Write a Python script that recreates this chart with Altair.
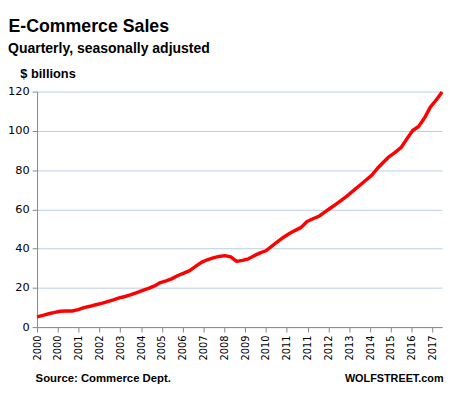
import json
import altair as alt
import pandas as pd

# ---- data (quarterly, $ billions, 2000 Q1 .. 2017 Q2) ----
sales = [5.2, 6.0, 6.8, 7.5, 8.1, 8.2, 8.2, 8.9, 9.9, 10.6,
         11.4, 12.1, 13.0, 13.9, 14.9, 15.6, 16.5, 17.6, 18.7, 19.7,
         21.0, 22.7, 23.6, 24.7, 26.3, 27.5, 28.8, 30.9, 33.0, 34.3,
         35.3, 36.0, 36.4, 35.8, 33.5, 34.0, 34.8, 36.4, 37.8, 38.9,
         41.2, 43.6, 45.8, 47.7, 49.3, 50.8, 53.8, 55.2, 56.4, 58.6,
         60.7, 62.8, 65.0, 67.3, 69.8, 72.3, 74.8, 77.3, 80.9, 84.0,
         86.9, 89.0, 91.4, 95.9, 100.2, 102.2, 106.5, 112.1, 115.7, 119.8]
quarter_index = list(range(len(sales)))
tick_labels = ["2000", "2000", "2001", "2002", "2003", "2004", "2005", "2006",
               "2007", "2008", "2009", "2010", "2011", "2011", "2012", "2013",
               "2014", "2015", "2016", "2017"]
y_ticks = [0, 20, 40, 60, 80, 100, 120]

title_text = ["E-Commerce Sales"]
subtitle_text = ["Quarterly, seasonally adjusted"]
unit_text = ["$ billions"]
source_text = ["Source: Commerce Dept."]
brand_text = ["WOLFSTREET.com"]

df = pd.DataFrame({"q": quarter_index, "sales": sales})

tick_step = 3.546
tick_values = [round(k * tick_step, 3) for k in range(len(tick_labels))]
label_expr = f"{json.dumps(tick_labels)}[round(datum.value / {tick_step})]"

W, H = 411, 239

line = alt.Chart(df).mark_line(color="#ff0000", strokeWidth=3.5, strokeJoin="round").encode(
    x=alt.X("q:Q",
            scale=alt.Scale(domain=[0, len(sales) - 1], nice=False, zero=False),
            axis=alt.Axis(values=tick_values, labelExpr=label_expr, labelAngle=270,
                          title=None, grid=False, domainColor="#868686", tickColor="#868686",
                          tickSize=5, labelPadding=3, labelFont="DejaVu Sans", labelFontSize=10,
                          labelColor="#000000", labelOverlap=False, labelBound=False,
                          labelFlush=False)),
    y=alt.Y("sales:Q",
            scale=alt.Scale(domain=[0, 120], nice=False),
            axis=alt.Axis(values=y_ticks, title=None, grid=True, gridColor="#b9cde5",
                          gridWidth=1, domainColor="#868686", tickColor="#868686",
                          tickSize=5, labelPadding=3, labelFont="DejaVu Sans",
                          labelFontSize=11.5, labelColor="#000000")),
)

def label(texts, x, y, size, align="left"):
    return alt.Chart(pd.DataFrame({"t": texts})).mark_text(
        font="Liberation Sans", fontWeight="bold", fontSize=size, align=align,
        baseline="alphabetic", color="#000000"
    ).encode(x=alt.value(x), y=alt.value(y), text="t:N")

chart = alt.layer(
    line,
    label(title_text, -29, -60, 18),
    label(subtitle_text, -29.5, -39.5, 14.2),
    label(unit_text, -17, -14, 13),
    label(source_text, -1.5, 295, 11.5),
    label(brand_text, 412.5, 295, 11, align="right"),
).properties(
    width=W, height=H,
    autosize=alt.AutoSizeParams(type="none"),
    padding={"left": 29.5, "top": 82, "right": 5, "bottom": 60},
    background="#ffffff",
).configure_view(stroke=None)

chart.save("out.html", embed_options={"renderer": "svg", "actions": False})
